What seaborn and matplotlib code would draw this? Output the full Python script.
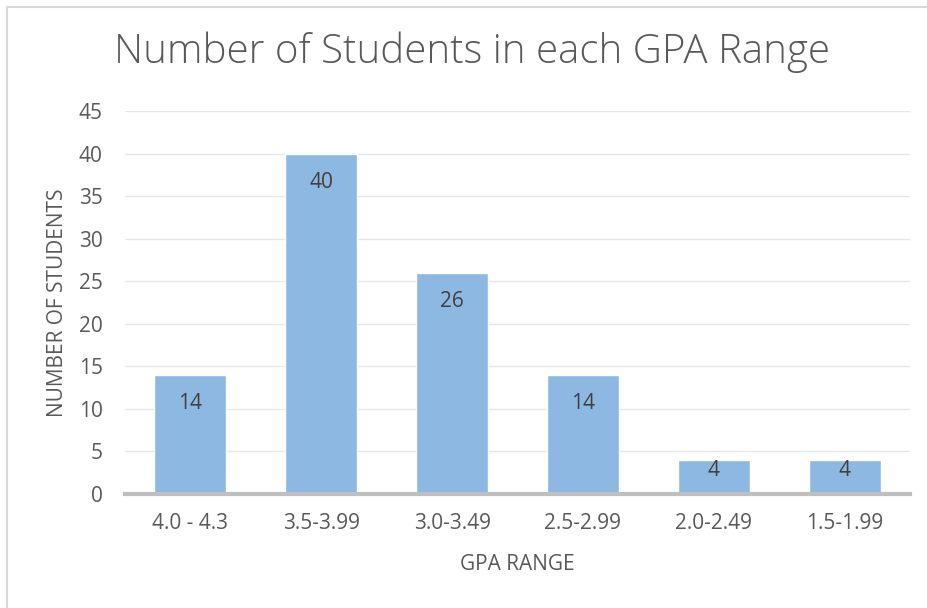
import pandas as pd
import matplotlib
matplotlib.use('Agg')
import matplotlib.pyplot as plt
import seaborn as sns
from matplotlib.patches import Rectangle

# Chart data
gpa_ranges = ['4.0 - 4.3', '3.5-3.99', '3.0-3.49', '2.5-2.99', '2.0-2.49', '1.5-1.99']
students = [14, 40, 26, 14, 4, 4]

df = pd.DataFrame({'gpa': gpa_ranges, 'students': students})

sns.set_style('white')
plt.rcParams['font.family'] = ['Open Sans', 'DejaVu Sans']

gray = '#595959'
fig = plt.figure(figsize=(9.28, 6.08), dpi=100)
ax = fig.add_axes([125 / 928, 1 - 494 / 608, 785 / 928, 383 / 608])

sns.barplot(data=df, x='gpa', y='students', color='#8DB8E2', saturation=1,
            width=0.55, ax=ax, zorder=3)

ax.set_ylim(0, 45)
ax.set_yticks(range(0, 50, 5))
ax.set_xlim(-0.5, len(gpa_ranges) - 0.5)
ax.grid(axis='y', color='#E6E6E6', linewidth=1, zorder=0)
for side in ['top', 'right', 'left']:
    ax.spines[side].set_visible(False)
ax.spines['bottom'].set_color('#BFBFBF')
ax.spines['bottom'].set_linewidth(3)
ax.spines['bottom'].set_zorder(4)
ax.tick_params(axis='both', length=0, labelsize=15, colors=gray)
ax.tick_params(axis='x', pad=14)
ax.tick_params(axis='y', pad=16)

ax.set_xlabel('GPA RANGE', fontsize=15, color=gray, labelpad=14)
ax.set_ylabel('NUMBER OF STUDENTS', fontsize=15, color=gray, labelpad=8)

# value labels inside bar ends
for p, v in zip(ax.patches, students):
    h_px = ax.transData.transform((0, v))[1] - ax.transData.transform((0, 0))[1]
    off = min(29, h_px - 23)
    ax.annotate(str(v), (p.get_x() + p.get_width() / 2, v),
                xytext=(0, -off * 0.72), textcoords='offset points',
                ha='center', va='center', fontsize=15, color='#404040', zorder=5)

fig.text(472 / 928, 1 - 52 / 608, 'Number of Students in each GPA Range',
         ha='center', va='center', fontsize=29, color=gray, fontweight='light')

# outer chart border
fig.patches.append(Rectangle((7 / 928, -0.1), 1.1, 1 - 7 / 608 + 0.1,
                             transform=fig.transFigure, fill=False,
                             edgecolor='#D9D9D9', linewidth=1.5))

fig.savefig('out.png', dpi=100)
